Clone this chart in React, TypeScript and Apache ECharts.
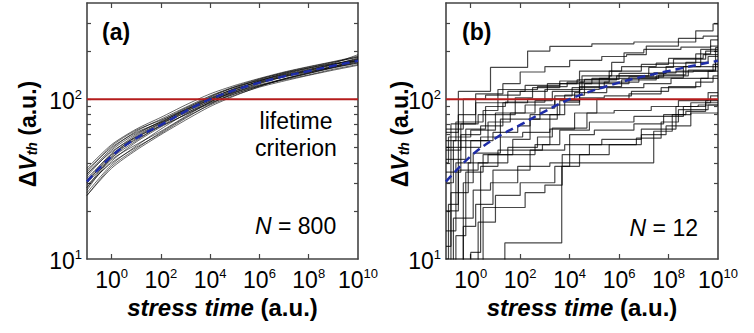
import React, { useEffect, useRef } from 'react';
import * as echarts from 'echarts';

// ---------- data ----------
// stress time exponents (log10 of stress time, a.u.)
const LOG_T = [-1, 0, 1, 2, 3, 4, 5, 6, 7, 8, 9, 10];
// mean ΔVth (a.u.) at each LOG_T (blue dashed curve, both panels)
const MEAN_DVTH = [30.5, 44, 57, 69, 84, 100, 114, 127, 139, 150, 162, 174];
const LIFETIME_CRITERION = 100;

// panel (a): individual device traces, ΔVth at each LOG_T
const CURVES_A = [
  [25, 38, 49, 62, 77, 92, 106, 119, 130, 141, 152, 163],
  [37, 52, 65, 77, 92, 108, 122, 135, 148, 160, 172, 186],
  [28, 41, 54, 67, 80, 94, 108, 121, 134, 146, 158, 171],
  [34, 49, 63, 75, 89, 105, 120, 134, 146, 157, 170, 184],
  [30, 42, 52, 63, 78, 96, 112, 127, 141, 153, 166, 179],
  [33, 48, 61, 72, 85, 99, 111, 123, 134, 145, 157, 169],
  [26, 39, 51, 65, 81, 98, 115, 130, 143, 154, 165, 176],
  [31, 46, 60, 73, 88, 102, 116, 128, 138, 148, 160, 174],
  [29, 40, 50, 61, 76, 93, 110, 125, 139, 152, 165, 178],
  [35, 51, 64, 74, 86, 100, 113, 126, 138, 151, 164, 181],
  [27, 43, 57, 70, 84, 97, 110, 122, 132, 142, 154, 165],
  [36, 50, 62, 72, 87, 104, 119, 132, 144, 156, 168, 190],
  [30, 45, 58, 71, 86, 101, 116, 129, 140, 149, 159, 172],
  [25, 37, 48, 60, 74, 90, 105, 120, 134, 147, 160, 175],
  [32, 45, 56, 68, 83, 100, 117, 133, 147, 159, 171, 183],
  [28, 44, 59, 71, 82, 95, 108, 121, 133, 145, 158, 168],
  [31, 43, 55, 69, 85, 103, 119, 131, 142, 151, 161, 177],
  [34, 47, 58, 68, 80, 96, 113, 130, 145, 157, 167, 173],
];

// panel (b): step traces, [log10 time of jump, ΔVth after jump]
const CURVES_B: [number, number][][] = [
  [[-1, 62], [-0.5, 112], [0.8, 158], [2.3, 200], [3.2, 214], [4.9, 222], [6.6, 228], [9.1, 268], [9.8, 296]],
  [[-1, 9], [-0.8, 48], [-0.4, 70], [0.2, 108], [1.3, 125], [2.0, 148], [3.0, 160], [4.0, 175], [5.3, 185], [6.3, 190], [7.1, 215], [8.4, 240], [9.4, 248]],
  [[-1, 15], [-0.6, 40], [0.0, 55], [0.7, 72], [1.6, 82], [2.6, 98], [3.3, 112], [4.4, 128], [5.6, 140], [7.2, 158], [8.2, 178], [9.5, 200]],
  [[-1, 8], [-0.3, 30], [0.1, 46], [1.2, 58], [2.1, 62], [3.2, 80], [3.8, 96], [4.4, 120], [6.1, 132], [7.5, 140], [8.8, 152], [9.9, 160]],
  [[-1, 5], [1.38, 12.6], [3.68, 38], [4.0, 40], [7.4, 63], [8.15, 80], [8.9, 95], [9.7, 105]],
  [[-1, 7], [0.5, 21], [2.2, 26], [3.0, 29], [3.7, 45], [4.8, 52], [6.7, 57], [7.7, 72], [8.4, 86], [9.6, 92]],
  [[-1, 30], [-0.7, 55], [0.9, 62], [1.9, 68], [2.4, 75], [3.5, 92], [4.4, 115], [5.2, 135], [7.6, 142], [8.7, 170], [9.6, 185]],
  [[-1, 42], [-0.2, 65], [0.6, 90], [1.4, 96], [3.0, 100], [3.8, 106], [4.6, 125], [6.4, 138], [7.8, 148], [9.0, 150], [9.8, 165]],
  [[-1, 20], [-0.5, 36], [0.3, 40], [1.5, 50], [2.7, 58], [3.3, 66], [4.7, 82], [5.8, 85], [7.3, 90], [8.4, 98], [9.6, 110]],
  [[-1, 8], [0.0, 11], [0.4, 38], [1.1, 48], [2.9, 52], [3.6, 64], [4.8, 72], [6.6, 78], [8.6, 90], [9.2, 92]],
  [[-1, 48], [-0.8, 70], [0.3, 80], [1.8, 102], [2.5, 118], [3.6, 125], [4.9, 135], [5.6, 150], [6.9, 165], [8.0, 180], [9.4, 190]],
  [[-1, 65], [-0.3, 100], [0.6, 106], [2.0, 112], [3.1, 125], [4.3, 132], [5.9, 140], [7.4, 146], [8.3, 150], [9.9, 175]],
  [[-1, 9], [-0.6, 14], [-0.2, 35], [0.5, 45], [1.7, 56], [2.4, 80], [3.6, 98], [4.4, 102], [5.4, 105], [6.5, 112], [8.0, 120], [9.3, 135]],
  [[-1, 7], [-0.7, 18], [0.1, 27], [0.8, 30], [1.9, 38], [3.2, 40], [4.0, 60], [5.0, 64], [6.6, 70], [7.8, 80], [8.7, 84], [9.5, 95]],
  [[-1, 35], [-0.4, 60], [0.4, 68], [1.3, 95], [2.3, 100], [3.0, 115], [4.5, 140], [5.7, 170], [6.2, 195], [7.0, 205], [8.5, 212], [9.7, 235]],
  [[-1, 12], [-0.8, 26], [-0.1, 40], [0.7, 45], [2.6, 52], [3.2, 65], [4.2, 82], [5.1, 100], [6.4, 108], [7.7, 118], [9.1, 128], [9.8, 140]],
  [[-1, 50], [-0.5, 80], [0.2, 95], [1.5, 112], [2.2, 122], [3.6, 130], [4.4, 150], [6.1, 160], [7.5, 168], [9.1, 192], [9.7, 215]],
  [[-1, 6], [-0.3, 16], [0.2, 22], [0.9, 36], [2.4, 48], [3.8, 52], [5.3, 56], [6.9, 60], [7.9, 68], [8.9, 82]],
  [[-1, 10], [-0.9, 22], [-0.5, 50], [0.4, 58], [1.2, 75], [2.8, 88], [3.4, 100], [4.2, 110], [5.5, 118], [7.0, 125], [8.1, 135], [9.6, 150]],
  [[-1, 55], [-0.6, 72], [0.5, 85], [1.1, 115], [2.7, 120], [3.9, 128], [4.6, 133], [6.0, 145], [7.9, 160], [9.3, 205]],
  [[-1, 4], [-0.4, 9], [0.3, 17], [1.0, 25], [2.0, 30], [3.4, 38], [4.4, 45], [5.6, 52], [6.9, 65], [8.3, 90], [9.5, 98]],
  [[-1, 40], [-0.9, 58], [0.0, 64], [1.0, 82], [2.2, 92], [3.4, 105], [4.1, 118], [5.4, 128], [6.8, 136], [8.6, 160], [9.9, 210]],
];

const X_RANGE = [-1, 10]; // log10 stress time
const Y_RANGE = [10, 400]; // ΔVth
const X_LABEL_EXP = [0, 2, 4, 6, 8, 10];
const X_TICK_EXP = [0, 2, 4, 6, 8];
const Y_LABEL_VALUES = [10, 100];
const Y_TICK_VALUES = [20, 30, 40, 50, 60, 70, 80, 90, 100, 200, 300];

// ---------- chart ----------
const FONT = '"Liberation Sans", Arial, Helvetica, sans-serif';
const AXIS_COLOR = '#444';

function buildOption() {
  const lg = Math.log10;
  const grids = [
    { left: 87, top: 3, width: 271, height: 256 },
    { left: 446, top: 3, width: 272, height: 256 },
  ];

  const powRich = {
    b: { fontSize: 23, fontFamily: FONT, color: '#000', lineHeight: 26, verticalAlign: 'bottom' },
    s: { fontSize: 13, fontFamily: FONT, color: '#000', lineHeight: 14, verticalAlign: 'top', padding: [2, 0, 0, 0] },
  };

  const axisLine = { show: true, onZero: false, lineStyle: { color: AXIS_COLOR, width: 1.6 } };

  const xAxes: any[] = [];
  const yAxes: any[] = [];
  [0, 1].forEach((g) => {
    const baseX = {
      type: 'value', gridIndex: g, min: X_RANGE[0], max: X_RANGE[1],
      splitLine: { show: false },
      axisLine,
      axisTick: { show: true, inside: true, length: 5, customValues: X_TICK_EXP, lineStyle: { color: AXIS_COLOR, width: 1.2 } },
    };
    xAxes.push({
      ...baseX, position: 'bottom',
      axisLabel: {
        show: true, customValues: X_LABEL_EXP, margin: 6,
        formatter: (v: number) => `{b|10}{s|${Math.round(v)}}`, rich: powRich,
      },
      name: '{i|stress time}{n| (a.u.)}', nameLocation: 'middle', nameGap: 36,
      nameTextStyle: {
        rich: {
          i: { fontSize: 24, fontWeight: 'bold', fontStyle: 'italic', fontFamily: FONT, color: '#000' },
          n: { fontSize: 24, fontWeight: 'bold', fontFamily: FONT, color: '#000' },
        },
      },
    });
    xAxes.push({ ...baseX, position: 'top', axisLabel: { show: false } });

    const baseY = {
      type: 'value', gridIndex: g, min: lg(Y_RANGE[0]), max: lg(Y_RANGE[1]),
      splitLine: { show: false },
      axisLine,
      axisTick: { show: true, inside: true, length: 4, customValues: Y_TICK_VALUES.map(lg), lineStyle: { color: AXIS_COLOR, width: 1.2 } },
    };
    yAxes.push({
      ...baseY, position: 'left',
      axisLabel: {
        show: true, customValues: Y_LABEL_VALUES.map(lg), margin: 5,
        formatter: (v: number) => `{b|10}{s|${Math.round(v)}}`, rich: powRich,
      },
    });
    yAxes.push({ ...baseY, position: 'right', axisLabel: { show: false } });
  });

  const series: any[] = [];
  CURVES_A.forEach((c) => {
    series.push({
      type: 'line', xAxisIndex: 0, yAxisIndex: 0, showSymbol: false, smooth: 0.25, silent: true,
      data: LOG_T.map((t, i) => [t, lg(c[i])]),
      lineStyle: { color: 'rgba(0,0,0,0.6)', width: 1 },
    });
  });
  CURVES_B.forEach((c) => {
    const pts = c.map(([t, v]) => [t, lg(v)]);
    pts.push([X_RANGE[1], lg(c[c.length - 1][1])]);
    series.push({
      type: 'line', xAxisIndex: 2, yAxisIndex: 2, showSymbol: false, step: 'end', silent: true,
      data: pts,
      lineStyle: { color: 'rgba(0,0,0,0.72)', width: 1.2 },
    });
  });
  [0, 2].forEach((ax) => {
    series.push({
      type: 'line', xAxisIndex: ax, yAxisIndex: ax, showSymbol: false, silent: true,
      data: [[X_RANGE[0], lg(LIFETIME_CRITERION)], [X_RANGE[1], lg(LIFETIME_CRITERION)]],
      lineStyle: { color: '#b51c1c', width: 2 },
    });
    series.push({
      type: 'line', xAxisIndex: ax, yAxisIndex: ax, showSymbol: false, smooth: 0.4, silent: true,
      data: LOG_T.map((t, i) => [t, lg(MEAN_DVTH[i])]),
      lineStyle: { color: '#1e2ca8', width: 2.5, type: [8, 5] },
    });
  });

  const txt = (text: string, x: number, y: number, extra: any = {}) => ({
    type: 'text', x, y, silent: true, z: 100,
    style: { text, fontSize: 23, fontFamily: FONT, fill: '#000', ...extra },
  });

  const yTitleRich = {
    n: { fontSize: 23, fontWeight: 'bold', fontFamily: FONT, fill: '#000', verticalAlign: 'bottom', lineHeight: 26 },
    i: { fontSize: 23, fontWeight: 'bold', fontStyle: 'italic', fontFamily: FONT, fill: '#000', verticalAlign: 'bottom', lineHeight: 26 },
    sub: { fontSize: 14, fontWeight: 'bold', fontStyle: 'italic', fontFamily: FONT, fill: '#000', verticalAlign: 'bottom', lineHeight: 14 },
  };
  const yTitle = (x: number) => ({
    type: 'text', x, y: 134, rotation: Math.PI / 2, silent: true, z: 100,
    style: {
      text: '{n|Δ}{i|V}{sub|th}{n| (a.u.)}', align: 'center', verticalAlign: 'middle',
      fontSize: 23, fontFamily: FONT, fontWeight: 'bold', fill: '#000', rich: yTitleRich,
    },
  });

  const graphic = [
    yTitle(26),
    yTitle(398),
    txt('(a)', 102, 20, { fontWeight: 'bold' }),
    txt('(b)', 462, 20, { fontWeight: 'bold' }),
    txt('lifetime\ncriterion', 296, 107, { align: 'center', lineHeight: 27 }),
    txt('{i|N} = 800', 255, 214, { rich: { i: { fontStyle: 'italic', fontSize: 23, fontFamily: FONT } } }),
    txt('{i|N} = 12', 698, 216, { align: 'right', rich: { i: { fontStyle: 'italic', fontSize: 23, fontFamily: FONT } } }),
  ];

  return {
    animation: false,
    backgroundColor: '#fff',
    grid: grids,
    xAxis: xAxes,
    yAxis: yAxes,
    series,
    graphic,
  };
}

export default function App() {
  const ref = useRef<HTMLDivElement>(null);
  useEffect(() => {
    document.body.style.margin = '0';
    if (!ref.current) return;
    const chart = echarts.init(ref.current, undefined, { renderer: 'svg' });
    chart.setOption(buildOption() as any);
    return () => chart.dispose();
  }, []);
  return <div ref={ref} style={{ width: 754, height: 333 }} />;
}
